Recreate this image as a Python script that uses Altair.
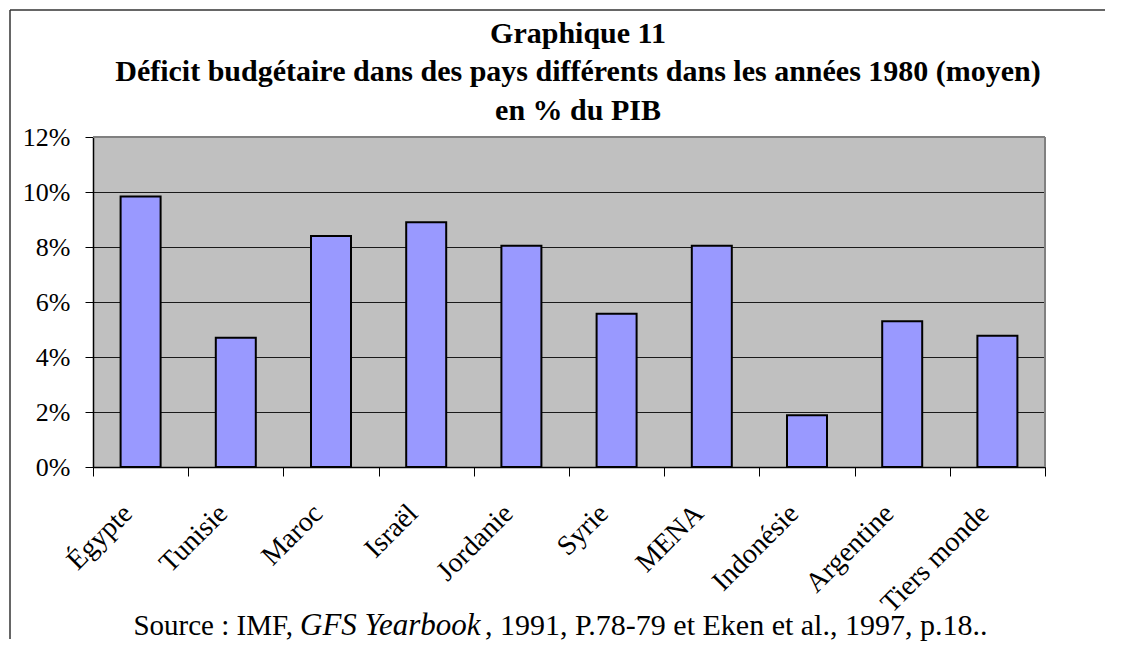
import altair as alt
import pandas as pd

countries = ["Égypte", "Tunisie", "Maroc", "Israël", "Jordanie",
             "Syrie", "MENA", "Indonésie", "Argentine", "Tiers monde"]
deficit = [0.0984, 0.047, 0.084, 0.089, 0.0805,
           0.0557, 0.0805, 0.0188, 0.053, 0.0477]
y_ticks = [0, 0.02, 0.04, 0.06, 0.08, 0.10, 0.12]
title_lines = ["Graphique 11",
               "Déficit budgétaire dans des pays différents dans les années 1980 (moyen)",
               "en % du PIB"]
source_parts = ["Source : IMF,", "GFS Yearbook", ", 1991, P.78-79 et Eken et al., 1997, p.18.."]

df = pd.DataFrame({"pays": countries, "deficit": deficit})
one = pd.DataFrame({"k": [0]})

W, H = 952, 330
PAD_L, PAD_T, PAD_R, PAD_B = 85, 129, 69, 174
FONT = "Liberation Serif, Times New Roman, serif"

bars = alt.Chart(df).mark_bar(size=40, color="#9999FF", stroke="black", strokeWidth=2).encode(
    x=alt.X("pays:N", sort=countries, title=None,
            scale=alt.Scale(paddingInner=0, paddingOuter=0),
            axis=alt.Axis(labelAngle=-45, labelAlign="right", labelBaseline="middle",
                          labelOffset=-13, labelPadding=33, labelFont=FONT, labelFontSize=28,
                          labelColor="black", tickBand="extent", tickSize=9, tickColor="black",
                          domainColor="black", domainWidth=1.5, labelFlush=False,
                          labelOverlap=False)),
    y=alt.Y("deficit:Q", title=None,
            scale=alt.Scale(domain=[0, 0.12], nice=False),
            axis=alt.Axis(values=y_ticks, format=".0%", labelFont=FONT, labelFontSize=26,
                          labelColor="black", tickSize=8, tickColor="black", labelPadding=15,
                          domainColor="black", domainWidth=1.5,
                          grid=True, gridColor="#1a1a1a", gridWidth=1.2)),
)

top_edge = alt.Chart(one).mark_rule(color="#808080", strokeWidth=2).encode(
    x=alt.value(0), x2=alt.value(W), y=alt.value(0))
right_edge = alt.Chart(one).mark_rule(color="#808080", strokeWidth=2).encode(
    x=alt.value(W), y=alt.value(0), y2=alt.value(H))

frame_top = alt.Chart(one).mark_rule(color="#333333", strokeWidth=1.5).encode(
    x=alt.value(-83), x2=alt.value(W + 60), y=alt.value(-127))
frame_left = alt.Chart(one).mark_rule(color="#333333", strokeWidth=1.5).encode(
    x=alt.value(-83), y=alt.value(-127), y2=alt.value(H + PAD_B - 2))

title_marks = [
    alt.Chart(one).mark_text(font=FONT, fontSize=30, fontWeight="bold", align="center",
                             baseline="alphabetic", color="black").encode(
        x=alt.value(485), y=alt.value(yy), text=alt.value(line))
    for line, yy in zip(title_lines, [-94, -56, -17])
]

src1 = alt.Chart(one).mark_text(font=FONT, fontSize=29, align="right", baseline="alphabetic",
                                color="black").encode(
    x=alt.value(200), y=alt.value(498), text=alt.value(source_parts[0]))
src2 = alt.Chart(one).mark_text(font=FONT, fontSize=31, fontStyle="italic", align="left",
                                baseline="alphabetic", color="black").encode(
    x=alt.value(207), y=alt.value(498), text=alt.value(source_parts[1]))
src3 = alt.Chart(one).mark_text(font=FONT, fontSize=30, align="left", baseline="alphabetic",
                                color="black").encode(
    x=alt.value(392), y=alt.value(498), text=alt.value(source_parts[2]))

chart = alt.layer(bars, top_edge, right_edge, frame_top, frame_left, *title_marks,
                  src1, src2, src3).properties(
    width=W, height=H,
    background="white",
    autosize=alt.AutoSizeParams(type="none"),
    padding={"left": PAD_L, "top": PAD_T, "right": PAD_R, "bottom": PAD_B},
).configure_view(fill="#C0C0C0", stroke=None)

chart.save("out.html", embed_options={"renderer": "svg", "actions": False})
